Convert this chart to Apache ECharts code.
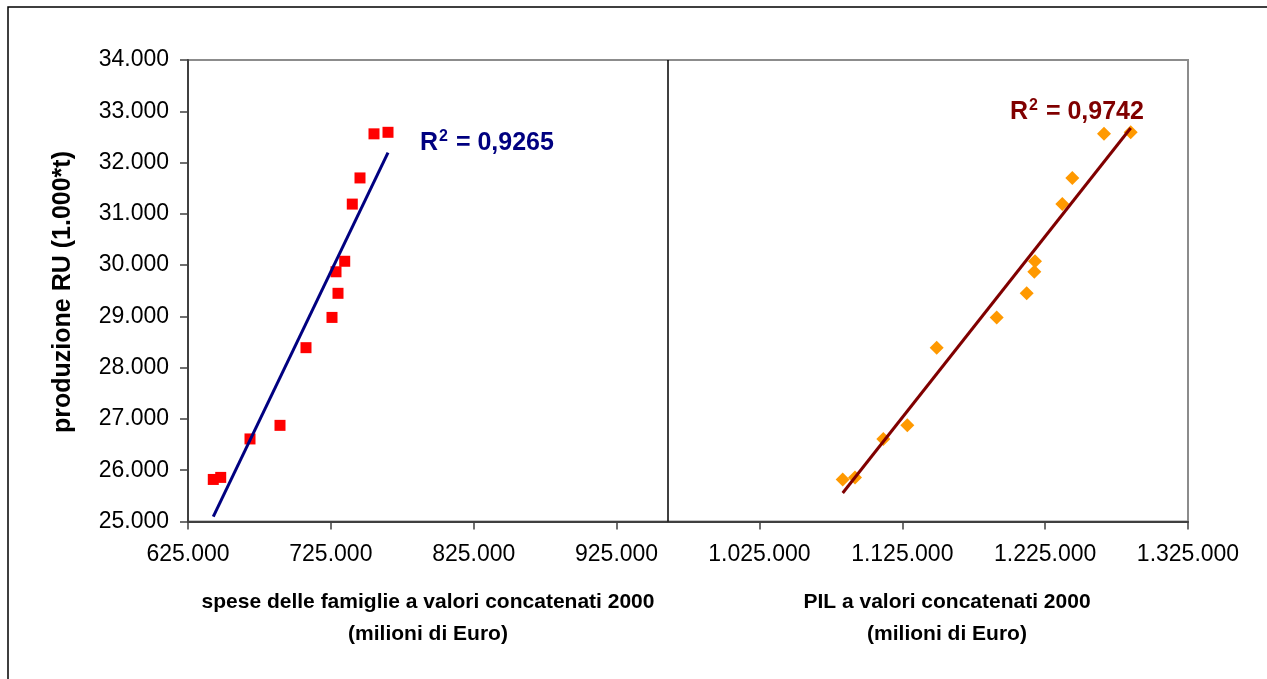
<!DOCTYPE html>
<html>
<head>
<meta charset="utf-8">
<script src="https://cdn.jsdelivr.net/npm/echarts@6/dist/echarts.min.js"></script>
<style>
  html, body { margin: 0; padding: 0; background: #fff; }
  #chart { width: 1267px; height: 679px; }
</style>
</head>
<body>
<div id="chart"></div>
<script>
// Produzione di rifiuti urbani (migliaia di tonnellate)
const ruProduction = [25820, 25860, 26610, 26875, 28390, 28980, 29450, 29870, 30075, 31190, 31700, 32560, 32590];
// Spese delle famiglie, valori concatenati 2000 (milioni di Euro)
const householdSpending = [642700, 647900, 668400, 689400, 707600, 725800, 730000, 728600, 734700, 740000, 745400, 755200, 765000];
// PIL, valori concatenati 2000 (milioni di Euro)
const gdp = [1083300, 1091900, 1111700, 1128500, 1149100, 1191100, 1212100, 1217400, 1217900, 1237000, 1244000, 1266200, 1284900];

const xTicks = [625000, 725000, 825000, 925000, 1025000, 1125000, 1225000, 1325000];
const yTicks = [25000, 26000, 27000, 28000, 29000, 30000, 31000, 32000, 33000, 34000];
const panelBoundary = 961000;
const r2Labels = ['0,9265', '0,9742'];

function fmt(v) {
  return String(Math.round(v)).replace(/\B(?=(\d{3})+(?!\d))/g, '.');
}

// least-squares trendline spanning the data range
function trend(xs, ys) {
  const n = xs.length;
  const mx = xs.reduce((a, b) => a + b, 0) / n;
  const my = ys.reduce((a, b) => a + b, 0) / n;
  let sxy = 0, sxx = 0;
  for (let i = 0; i < n; i++) {
    sxy += (xs[i] - mx) * (ys[i] - my);
    sxx += (xs[i] - mx) * (xs[i] - mx);
  }
  const b = sxy / sxx, a = my - b * mx;
  const lo = Math.min(...xs), hi = Math.max(...xs);
  return [[lo, a + b * lo], [hi, a + b * hi]];
}

const pairs = (xs, ys) => xs.map((x, i) => [x, ys[i]]);

const chart = echarts.init(document.getElementById('chart'), null, { renderer: 'canvas' });
const FONT = '"Liberation Sans", Arial, sans-serif';

function r2Text(x, y, value, color) {
  return {
    type: 'text', x: x, y: y,
    style: {
      text: '{r|R}{s|2}{r| = ' + value + '}',
      rich: {
        r: { fontFamily: FONT, fontSize: 25, fontWeight: 'bold', fill: color },
        s: { fontFamily: FONT, fontSize: 16, fontWeight: 'bold', fill: color, verticalAlign: 'top', padding: [0, 1, 12, 1] }
      },
      fill: color,
      verticalAlign: 'middle'
    }
  };
}

chart.setOption({
  backgroundColor: '#ffffff',
  animation: false,
  grid: {
    left: 188, right: 79, top: 60, bottom: 157.5,
    show: true, borderColor: '#8c8c8c', borderWidth: 2, backgroundColor: 'transparent'
  },
  xAxis: {
    type: 'value',
    min: xTicks[0], max: xTicks[xTicks.length - 1], interval: xTicks[1] - xTicks[0],
    axisLine: { show: true, onZero: false, lineStyle: { color: '#404040', width: 2 } },
    axisTick: { show: true, inside: false, length: 8, lineStyle: { color: '#404040', width: 1.5 } },
    splitLine: { show: false },
    axisLabel: { formatter: fmt, fontFamily: FONT, fontSize: 23, color: '#000', margin: 22 }
  },
  yAxis: {
    type: 'value',
    min: yTicks[0], max: yTicks[yTicks.length - 1], interval: yTicks[1] - yTicks[0],
    axisLine: { show: true, onZero: false, lineStyle: { color: '#404040', width: 2 } },
    axisTick: { show: true, inside: false, length: 8, lineStyle: { color: '#404040', width: 1.5 } },
    splitLine: { show: false },
    axisLabel: { formatter: fmt, fontFamily: FONT, fontSize: 23, color: '#000', margin: 19 }
  },
  series: [
    {
      type: 'scatter',
      data: pairs(householdSpending, ruProduction),
      symbol: 'rect', symbolSize: 11,
      itemStyle: { color: '#ff0000', opacity: 1 },
      z: 3,
      markLine: {
        silent: true, symbol: 'none', label: { show: false },
        lineStyle: { color: '#000000', width: 1.5, type: 'solid' },
        data: [[{ coord: [panelBoundary, yTicks[0]] }, { coord: [panelBoundary, yTicks[yTicks.length - 1]] }]]
      }
    },
    {
      type: 'line',
      data: trend(householdSpending, ruProduction),
      symbol: 'none',
      lineStyle: { color: '#000080', width: 3 },
      z: 4
    },
    {
      type: 'scatter',
      data: pairs(gdp, ruProduction),
      symbol: 'diamond', symbolSize: 14,
      itemStyle: { color: '#ff9900', opacity: 1 },
      z: 3
    },
    {
      type: 'line',
      data: trend(gdp, ruProduction),
      symbol: 'none',
      lineStyle: { color: '#800000', width: 3 },
      z: 4
    }
  ],
  graphic: [
    {
      type: 'rect', silent: true, z: 0,
      shape: { x: 8, y: 7, width: 1300, height: 700 },
      style: { fill: 'none', stroke: '#000000', lineWidth: 1.5 }
    },
    {
      type: 'text', x: 63, y: 292, rotation: Math.PI / 2,
      style: {
        text: 'produzione RU (1.000*t)', fontFamily: FONT, fontSize: 25, fontWeight: 'bold',
        fill: '#000', align: 'center', verticalAlign: 'middle'
      }
    },
    {
      type: 'text', x: 428, y: 602,
      style: {
        text: 'spese delle famiglie a valori concatenati 2000', fontFamily: FONT, fontSize: 21,
        fontWeight: 'bold', fill: '#000', align: 'center', verticalAlign: 'middle'
      }
    },
    {
      type: 'text', x: 428, y: 634,
      style: {
        text: '(milioni di Euro)', fontFamily: FONT, fontSize: 21,
        fontWeight: 'bold', fill: '#000', align: 'center', verticalAlign: 'middle'
      }
    },
    {
      type: 'text', x: 947, y: 602,
      style: {
        text: 'PIL a valori concatenati 2000', fontFamily: FONT, fontSize: 21,
        fontWeight: 'bold', fill: '#000', align: 'center', verticalAlign: 'middle'
      }
    },
    {
      type: 'text', x: 947, y: 634,
      style: {
        text: '(milioni di Euro)', fontFamily: FONT, fontSize: 21,
        fontWeight: 'bold', fill: '#000', align: 'center', verticalAlign: 'middle'
      }
    },
    r2Text(420, 143, r2Labels[0], '#000080'),
    r2Text(1010, 112, r2Labels[1], '#800000')
  ]
});
</script>
</body>
</html>
